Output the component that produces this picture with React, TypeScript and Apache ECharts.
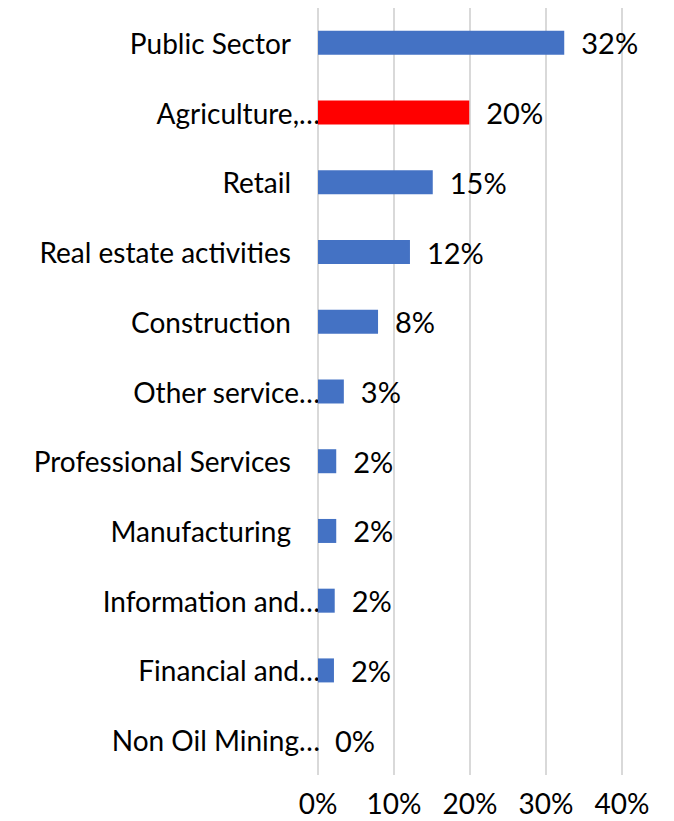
import React, { useEffect, useRef } from "react";
import * as echarts from "echarts";

const categories = [
  "Public Sector",
  "Agriculture,…",
  "Retail",
  "Real estate activities",
  "Construction",
  "Other service…",
  "Professional Services",
  "Manufacturing",
  "Information and…",
  "Financial and…",
  "Non Oil Mining…",
];
const values = [32.4, 19.9, 15.1, 12.1, 7.9, 3.4, 2.4, 2.4, 2.2, 2.1, 0];
const highlighted = ["Agriculture,…"];
const xTicks = [0, 10, 20, 30, 40];

const FONT = "Lato";

export default function App() {
  const ref = useRef<HTMLDivElement>(null);
  useEffect(() => {
    document.body.style.margin = "0";
    const chart = echarts.init(ref.current!, null, { renderer: "svg" });
    chart.setOption({
      animation: false,
      grid: { left: 318, right: 52, top: 8, bottom: 46, containLabel: false },
      xAxis: {
        type: "value",
        min: xTicks[0],
        max: xTicks[xTicks.length - 1],
        interval: 10,
        axisLine: { show: false },
        axisTick: { show: false },
        splitLine: { lineStyle: { color: "#d9d9d9", width: 2 } },
        axisLabel: {
          formatter: (v: number) => `${v}%`,
          fontFamily: FONT,
          fontSize: 28,
          lineHeight: 28,
          color: "#000",
          margin: 14,
        },
      },
      yAxis: {
        type: "category",
        data: categories,
        inverse: true,
        axisLine: { show: false },
        axisTick: { show: false },
        splitLine: { show: false },
        axisLabel: {
          margin: -2,
          formatter: (v: string) => (v.endsWith("…") ? `{t|${v}}` : `{n|${v}}`),
          rich: {
            t: { fontFamily: FONT, fontSize: 28, color: "#000", padding: [0, 0, 0, 0] },
            n: { fontFamily: FONT, fontSize: 28, color: "#000", padding: [0, 29, 0, 0] },
          },
        },
      },
      series: [
        {
          type: "bar",
          barWidth: 24,
          data: categories.map((c, i) => ({
            value: values[i],
            itemStyle: { color: highlighted.includes(c) ? "#FF0000" : "#4472C4" },
          })),
          label: {
            show: true,
            position: "right",
            distance: 17,
            fontFamily: FONT,
            fontSize: 29,
            color: "#000",
            formatter: (p: any) => `${Math.round(p.value)}%`,
          },
        },
      ],
    });
    return () => chart.dispose();
  }, []);
  return <div ref={ref} style={{ width: 674, height: 821 }} />;
}
